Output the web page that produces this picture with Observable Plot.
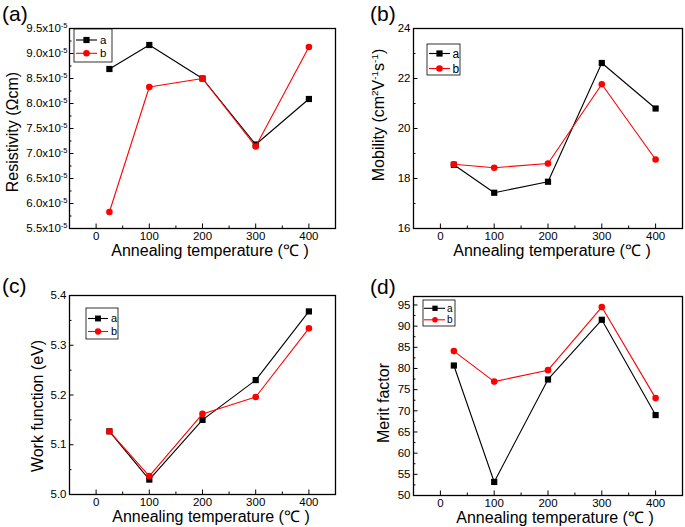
<!DOCTYPE html>
<html>
<head>
<meta charset="utf-8">
<script src="https://cdn.jsdelivr.net/npm/d3@7"></script>
<script src="https://cdn.jsdelivr.net/npm/@observablehq/plot@0.6"></script>
<style>
  body { margin: 0; background: #fff; }
  #chart { position: relative; width: 685px; height: 527px; overflow: hidden; background: #fff; }
  #chart svg { position: absolute; overflow: visible; }
</style>
</head>
<body>
<div id="chart"></div>
<script>
// ---------------- data ----------------
const temperatures = [25, 100, 200, 300, 400];
const seriesNames = ["a", "b"];

const resistivityA = [8.69e-5, 9.17e-5, 8.50e-5, 7.18e-5, 8.09e-5];
const resistivityB = [5.83e-5, 8.33e-5, 8.50e-5, 7.14e-5, 9.13e-5];

const mobilityA = [18.55, 17.43, 17.87, 22.62, 20.80];
const mobilityB = [18.57, 18.43, 18.60, 21.77, 18.76];

const workFunctionA = [5.127, 5.030, 5.150, 5.230, 5.368];
const workFunctionB = [5.127, 5.037, 5.162, 5.196, 5.334];

const meritA = [80.7, 53.2, 77.4, 91.5, 69.0];
const meritB = [84.1, 76.9, 79.6, 94.5, 73.0];

const xTicks = [0, 100, 200, 300, 400];
const xMinorTicks = [50, 150, 250, 350];

const resistivityTicks = [5.5e-5, 6.0e-5, 6.5e-5, 7.0e-5, 7.5e-5, 8.0e-5, 8.5e-5, 9.0e-5, 9.5e-5];
const resistivityMinorTicks = [5.75e-5, 6.25e-5, 6.75e-5, 7.25e-5, 7.75e-5, 8.25e-5, 8.75e-5, 9.25e-5];
const mobilityTicks = [16, 18, 20, 22, 24];
const mobilityMinorTicks = [17, 19, 21, 23];
const workFunctionTicks = [5.0, 5.1, 5.2, 5.3, 5.4];
const workFunctionMinorTicks = [5.05, 5.15, 5.25, 5.35];
const meritTicks = [50, 55, 60, 65, 70, 75, 80, 85, 90, 95];
const meritMinorTicks = [52.5, 57.5, 62.5, 67.5, 72.5, 77.5, 82.5, 87.5, 92.5];

const xTitle = "Annealing temperature (℃ )";

// ---------------- layout ----------------
const FONT = "Arial, 'Liberation Sans', sans-serif";
const colors = { a: "#000000", b: "#ff0000" };

const panels = [
  {
    tag: "(a)", left: 0, top: 0, width: 342, height: 263, frame: [69, 28, 335, 228],
    A: resistivityA, B: resistivityB, yDomain: [5.5e-5, 9.5e-5],
    yTicks: resistivityTicks, yMinor: resistivityMinorTicks,
    yFormat: d => (d * 1e5).toFixed(1) + "x10", ySup: "-5", tickPad: 2,
    tagPos: [2, 20.5],
    yTitle: [["Resistivity (Ωcm)"]], yTitlePos: [17.5, 132],
    xTitlePos: [210, 256],
    legend: { box: [74, 29, 112, 62], rows: [40, 53.3], line: [76, 97], marker: 86.5, text: 100, size: 11.5, r: 1 }
  },
  {
    tag: "(b)", left: 342, top: 0, width: 343, height: 263, frame: [413, 28, 682, 228],
    A: mobilityA, B: mobilityB, yDomain: [16, 24],
    yTicks: mobilityTicks, yMinor: mobilityMinorTicks,
    yFormat: d => String(d), tickPad: 3,
    tagPos: [370, 20.5],
    yTitle: [["Mobility (cm"], ["2", 1], ["V"], ["-1", 1], ["s"], ["-1", 1], [")"]], yTitlePos: [384, 115],
    xTitlePos: [552, 256],
    legend: { box: [427, 44, 460, 75], rows: [53.5, 68.5], line: [429, 450], marker: 439.5, text: 452.5, size: 12, r: 1 }
  },
  {
    tag: "(c)", left: 0, top: 263, width: 342, height: 264, frame: [69, 295, 335, 494],
    A: workFunctionA, B: workFunctionB, yDomain: [5.0, 5.4],
    yTicks: workFunctionTicks, yMinor: workFunctionMinorTicks,
    yFormat: d => d.toFixed(1), tickPad: 3,
    tagPos: [2, 293],
    yTitle: [["Work function (eV)"]], yTitlePos: [43, 406],
    xTitlePos: [211, 522],
    legend: { box: [86, 308, 118, 339], rows: [318.5, 331.5], line: [88, 108], marker: 98, text: 111, size: 11, r: 0.95 }
  },
  {
    tag: "(d)", left: 342, top: 263, width: 343, height: 264, frame: [413, 296, 682, 495],
    A: meritA, B: meritB, yDomain: [50, 97],
    yTicks: meritTicks, yMinor: meritMinorTicks,
    yFormat: d => String(d), tickPad: 3,
    tagPos: [370, 294],
    yTitle: [["Merit factor"]], yTitlePos: [389, 403],
    xTitlePos: [555, 523],
    legend: { box: [423, 300, 455, 326], rows: [308.3, 319.8], line: [424, 445], marker: 435, text: 447, size: 10, r: 0.85 }
  }
];

// rich text with superscripts
function rich(sel, parts, size) {
  let shift = 0;
  parts.forEach(([s, sup]) => {
    const target = sup ? -0.4 * size : 0;
    sel.append("tspan")
      .attr("dy", target - shift)
      .attr("font-size", sup ? size * 0.62 : size)
      .text(s);
    shift = target;
  });
}

const chart = document.getElementById("chart");

panels.forEach(p => {
  const [fx0, fy0, fx1, fy1] = p.frame;
  const dataA = temperatures.map((t, i) => ({ t, v: p.A[i], s: seriesNames[0] }));
  const dataB = temperatures.map((t, i) => ({ t, v: p.B[i], s: seriesNames[1] }));

  const svg = Plot.plot({
    width: p.width,
    height: p.height,
    marginLeft: fx0 - p.left,
    marginRight: p.left + p.width - fx1,
    marginTop: fy0 - p.top,
    marginBottom: p.top + p.height - fy1,
    style: { fontFamily: FONT, fontSize: "11.5px", color: "#000", background: "transparent", overflow: "visible" },
    x: { domain: [-50, 450], label: null },
    y: { domain: p.yDomain, label: null },
    marks: [
      Plot.axisX({ ticks: xTicks, tickSize: -4.5, tickFormat: () => "", label: null }),
      Plot.axisX({ ticks: xMinorTicks, tickSize: -2.5, tickFormat: () => "", label: null }),
      Plot.axisX({ ticks: xTicks, tickSize: 0, tickPadding: 3, tickFormat: d => String(d), label: null }),
      Plot.axisY({ ticks: p.yTicks, tickSize: -4.5, tickFormat: () => "", label: null }),
      Plot.axisY({ ticks: p.yMinor, tickSize: -2.5, tickFormat: () => "", label: null }),
      Plot.axisY({ ticks: p.yTicks, tickSize: 0, tickPadding: p.tickPad, tickFormat: p.yFormat, label: null }),
      Plot.frame({ stroke: "#000", strokeWidth: 1.3 }),
      Plot.line(dataA, { x: "t", y: "v", stroke: colors.a, strokeWidth: 1.1 }),
      Plot.dot(dataA, { x: "t", y: "v", symbol: "square", fill: colors.a, r: 3.5 }),
      Plot.line(dataB, { x: "t", y: "v", stroke: colors.b, strokeWidth: 1.1 }),
      Plot.dot(dataB, { x: "t", y: "v", symbol: "circle", fill: colors.b, r: 3.3 })
    ]
  });
  svg.style.left = p.left + "px";
  svg.style.top = p.top + "px";
  chart.appendChild(svg);

  const s = d3.select(svg);
  const L = x => x - p.left, T = y => y - p.top;

  // superscript exponent on tick labels
  if (p.ySup) {
    s.selectAll('g[aria-label="y-axis tick label"] text').each(function () {
      if (this.textContent) {
        d3.select(this).append("tspan").attr("dy", -4.5).attr("font-size", 7.5).text(p.ySup);
      }
    });
  }

  const overlay = s.append("g").attr("font-family", FONT).attr("fill", "#000").attr("text-anchor", "start");

  // panel tag
  overlay.append("text").attr("x", L(p.tagPos[0])).attr("y", T(p.tagPos[1]))
    .attr("text-anchor", "start").attr("font-size", 21).text(p.tag);

  // y title
  const yt = overlay.append("text")
    .attr("transform", `translate(${L(p.yTitlePos[0])},${T(p.yTitlePos[1])}) rotate(-90)`)
    .attr("text-anchor", "middle").attr("font-size", 16);
  rich(yt, p.yTitle, 16);

  // x title
  overlay.append("text").attr("x", L(p.xTitlePos[0])).attr("y", T(p.xTitlePos[1]))
    .attr("text-anchor", "middle").attr("font-size", 16).text(xTitle);

  // legend
  const lg = p.legend;
  overlay.append("rect")
    .attr("x", L(lg.box[0])).attr("y", T(lg.box[1]))
    .attr("width", lg.box[2] - lg.box[0]).attr("height", lg.box[3] - lg.box[1])
    .attr("fill", "#fff").attr("stroke", "#000").attr("stroke-width", 0.8);
  seriesNames.forEach((name, i) => {
    const y = T(lg.rows[i]);
    overlay.append("line").attr("x1", L(lg.line[0])).attr("x2", L(lg.line[1]))
      .attr("y1", y).attr("y2", y).attr("stroke", colors[name]).attr("stroke-width", 1.1);
    if (i === 0) {
      const side = 6.2 * lg.r;
      overlay.append("rect").attr("x", L(lg.marker) - side / 2).attr("y", y - side / 2)
        .attr("width", side).attr("height", side).attr("fill", colors[name]);
    } else {
      overlay.append("circle").attr("cx", L(lg.marker)).attr("cy", y).attr("r", 3.3 * lg.r)
        .attr("fill", colors[name]);
    }
    overlay.append("text").attr("x", L(lg.text)).attr("y", y).attr("dy", "0.35em")
      .attr("text-anchor", "start").attr("font-size", lg.size).text(name);
  });
});
</script>
</body>
</html>
